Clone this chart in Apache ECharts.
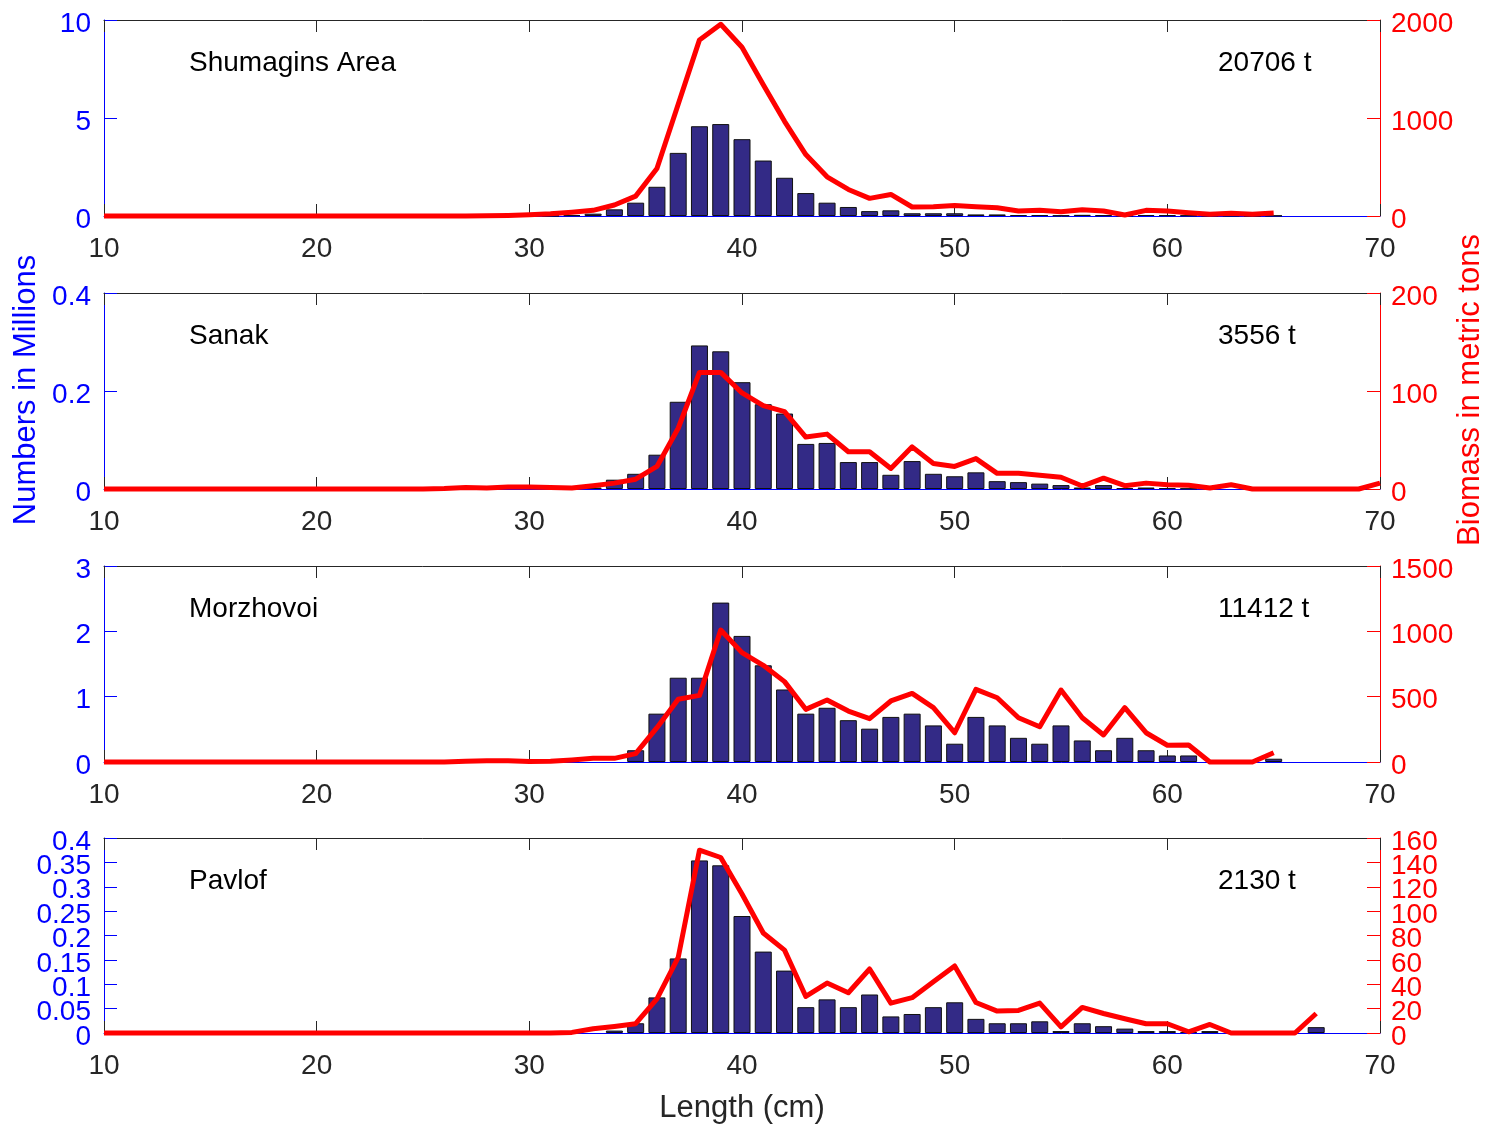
<!DOCTYPE html>
<html>
<head>
<meta charset="utf-8">
<script src="https://cdn.jsdelivr.net/npm/echarts@6/dist/echarts.min.js"></script>
<style>
html,body{margin:0;padding:0;background:#fff;}
#chart{width:1491px;height:1127px;}
</style>
</head>
<body>
<div id="chart"></div>
<script>
// Length classes (cm)
const lengths = [10,11,12,13,14,15,16,17,18,19,
  20,21,22,23,24,25,26,27,28,29,
  30,31,32,33,34,35,36,37,38,39,
  40,41,42,43,44,45,46,47,48,49,
  50,51,52,53,54,55,56,57,58,59,
  60,61,62,63,64,65,66,67,68,69,
  70];

const panelNames = ['Shumagins Area', 'Sanak', 'Morzhovoi', 'Pavlof'];
const panelTotals = ['20706 t', '3556 t', '11412 t', '2130 t'];

// Numbers in millions (bars)
const shumaginsNumbers = [0,0,0,0,0,0,0,0,0,0,
  0,0,0,0,0,0,0,0,0,0,
  0,0.01,0.04,0.12,0.34,0.68,1.49,3.22,4.58,4.69,
  3.92,2.83,1.95,1.17,0.68,0.46,0.25,0.29,0.14,0.14,
  0.14,0.08,0.08,0.05,0.05,0.03,0.06,0.04,0.02,0.05,
  0.04,0.03,0.02,0.02,0.01,0.02,0,0,0,0,
  0];
const sanakNumbers = [0,0,0,0,0,0,0,0,0,0,
  0,0,0,0,0,0,0,0,0,0,
  0,0,0,0.003,0.019,0.031,0.070,0.178,0.293,0.281,
  0.218,0.173,0.154,0.092,0.094,0.055,0.055,0.029,0.057,0.031,
  0.026,0.034,0.016,0.014,0.011,0.008,0.003,0.008,0.002,0.003,
  0.002,0.001,0,0,0,0,0,0,0,0,
  0];
const morzhovoiNumbers = [0,0,0,0,0,0,0,0,0,0,
  0,0,0,0,0,0,0,0,0,0,
  0,0,0,0,0,0.18,0.74,1.29,1.29,2.44,
  1.93,1.48,1.11,0.74,0.83,0.64,0.51,0.69,0.74,0.56,
  0.28,0.69,0.56,0.37,0.28,0.56,0.33,0.18,0.37,0.18,
  0.10,0.10,0,0,0,0.05,0,0,0,0,
  0];
const pavlofNumbers = [0,0,0,0,0,0,0,0,0,0,
  0,0,0,0,0,0,0,0,0,0,
  0,0,0,0,0.005,0.020,0.073,0.153,0.354,0.344,
  0.240,0.167,0.128,0.053,0.069,0.053,0.079,0.034,0.039,0.053,
  0.063,0.029,0.020,0.020,0.024,0.004,0.020,0.014,0.009,0.004,
  0.004,0.002,0.004,0,0,0,0,0.012,0,0,
  0];

// Biomass in metric tons (lines)
const shumaginsBiomass = [0,0,0,0,0,0,0,0,0,0,
  0,0,0,0,0,0,0,0,3,6,
  12,22,38,58,112,203,485,1140,1797,1956,
  1722,1339,966,627,400,271,180,220,92,95,
  108,95,85,51,58,44,64,51,10,58,
  51,34,17,27,17,30,null,null,null,null,
  null];
const sanakBiomass = [0,0,0,0,0,0,0,0,0,0,
  0,0,0,0,0,0,0.5,1.5,1,2,
  2,1.5,1,3.4,6,10,23,62,119,119,
  98,85,79,53,56,38,38,21,43,26,
  23,31,16,16,14,12,3,11,3.4,6,
  4.4,3.8,1,4.4,0,0,0,0,0,0,
  6];
const morzhovoiBiomass = [0,0,0,0,0,0,0,0,0,0,
  0,0,0,0,0,0,0,5,10,10,
  4,5,15,28,28,64,263,480,510,1010,
  837,740,615,403,474,390,332,467,525,416,
  224,556,492,339,270,551,339,207,416,224,
  128,130,0,0,0,71,null,null,null,null,
  null];
const pavlofBiomass = [0,0,0,0,0,0,0,0,0,0,
  0,0,0,0,0,0,0,0,0,0,
  0,0,0.5,3.5,5.4,7.6,28,62,150,144,
  114,82,68,30,41,33,52.5,24.5,29,42,
  55,25,18,18.5,24.5,5,21,16,11.7,7.6,
  7.6,1,7,0,0,0,0,16,null,null,
  null];

// Axis scales
const leftMax = [10, 0.4, 3, 0.4];
const leftInterval = [5, 0.2, 1, 0.05];
const rightMax = [2000, 200, 1500, 160];
const rightInterval = [1000, 100, 500, 20];

const numbersList = [shumaginsNumbers, sanakNumbers, morzhovoiNumbers, pavlofNumbers];
const biomassList = [shumaginsBiomass, sanakBiomass, morzhovoiBiomass, pavlofBiomass];

const FONT = "'Liberation Sans', Arial, Helvetica, sans-serif";
const gridTops = [20, 293, 566, 838];
const gridHeights = [196, 196, 196, 195];
const BLUE = '#0000ff', RED = '#ff0000', DARK = '#262626';
const plain = v => String(+(+v).toFixed(4));
const richFmt = v => '{a|' + plain(v) + '}';

function yAxisDef(i, side, max, interval, color, margin, isEnds) {
  return {
    gridIndex: i, type: 'value', min: 0, max: max, interval: interval, position: side,
    axisLine: {show: !isEnds, onZero: false, lineStyle: {color: color, width: 1}},
    axisTick: {show: true, inside: true, length: 13, lineStyle: {color: color, width: 1}},
    axisLabel: {show: true, margin: margin,
      showMinLabel: isEnds ? true : false, showMaxLabel: isEnds ? true : false, hideOverlap: false,
      formatter: richFmt,
      rich: {a: {color: color, fontSize: 28, fontFamily: FONT, lineHeight: 12, padding: [8, 0, 0, 0]}}},
    splitLine: {show: false}
  };
}

const grid = [], xAxis = [], yAxis = [], series = [], graphic = [];
for (let i = 0; i < 4; i++) {
  grid.push({left: 104, width: 1276, top: gridTops[i], height: gridHeights[i], containLabel: false});
  xAxis.push({
    gridIndex: i, type: 'value', min: 10, max: 70, interval: 10, position: 'bottom',
    axisLine: {show: true, onZero: false, lineStyle: {color: BLUE, width: 1}},
    axisTick: {show: true, inside: true, length: 12, lineStyle: {color: DARK, width: 1}},
    axisLabel: {show: true, color: DARK, fontSize: 28, fontFamily: FONT, margin: 19,
      showMinLabel: true, showMaxLabel: true, formatter: plain},
    splitLine: {show: false}
  });
  xAxis.push({
    gridIndex: i, type: 'value', min: 10, max: 70, interval: 10, position: 'top',
    axisLine: {show: true, onZero: false, lineStyle: {color: DARK, width: 1}},
    axisTick: {show: true, inside: true, length: 12, lineStyle: {color: DARK, width: 1}},
    axisLabel: {show: false},
    splitLine: {show: false}
  });
  const base = yAxis.length;
  // inner tick labels
  yAxis.push(yAxisDef(i, 'left', leftMax[i], leftInterval[i], BLUE, 13, false));
  yAxis.push(yAxisDef(i, 'right', rightMax[i], rightInterval[i], RED, 11, false));
  // end (min / max) tick labels
  yAxis.push(yAxisDef(i, 'left', leftMax[i], leftMax[i], BLUE, 13, true));
  yAxis.push(yAxisDef(i, 'right', rightMax[i], rightMax[i], RED, 11, true));

  const barData = [];
  numbersList[i].forEach((v, k) => { if (v > 0) barData.push([lengths[k], v]); });
  const lineData = [];
  biomassList[i].forEach((v, k) => { if (v !== null) lineData.push([lengths[k], v]); });

  series.push({
    type: 'bar', xAxisIndex: 2 * i, yAxisIndex: base, data: barData,
    barWidth: 17, silent: true, z: 2,
    itemStyle: {color: '#332a86', borderColor: '#111111', borderWidth: 1}
  });
  series.push({
    type: 'line', xAxisIndex: 2 * i, yAxisIndex: base + 1, data: lineData,
    showSymbol: false, symbol: 'none', clip: false, z: 5, silent: true,
    lineStyle: {color: RED, width: 5, join: 'round'}
  });

  graphic.push({
    type: 'text', x: 189, y: gridTops[i] + 43,
    style: {text: panelNames[i], fill: '#000', fontSize: 28, fontFamily: FONT, align: 'left', verticalAlign: 'middle'}
  });
  graphic.push({
    type: 'text', x: 1218, y: gridTops[i] + 43,
    style: {text: panelTotals[i], fill: '#000', fontSize: 28, fontFamily: FONT, align: 'left', verticalAlign: 'middle'}
  });
}

graphic.push({
  type: 'text', x: 26, y: 390, rotation: Math.PI / 2,
  style: {text: 'Numbers in Millions', fill: BLUE, fontSize: 31, fontFamily: FONT, align: 'center', verticalAlign: 'middle'}
});
graphic.push({
  type: 'text', x: 1470, y: 390, rotation: Math.PI / 2,
  style: {text: 'Biomass in metric tons', fill: RED, fontSize: 31, fontFamily: FONT, align: 'center', verticalAlign: 'middle'}
});
graphic.push({
  type: 'text', x: 742, y: 1108,
  style: {text: 'Length (cm)', fill: DARK, fontSize: 31, fontFamily: FONT, align: 'center', verticalAlign: 'middle'}
});

const chart = echarts.init(document.getElementById('chart'), null, {renderer: 'canvas'});
chart.setOption({
  animation: false,
  backgroundColor: '#ffffff',
  grid: grid, xAxis: xAxis, yAxis: yAxis, series: series, graphic: graphic
});
</script>
</body>
</html>
